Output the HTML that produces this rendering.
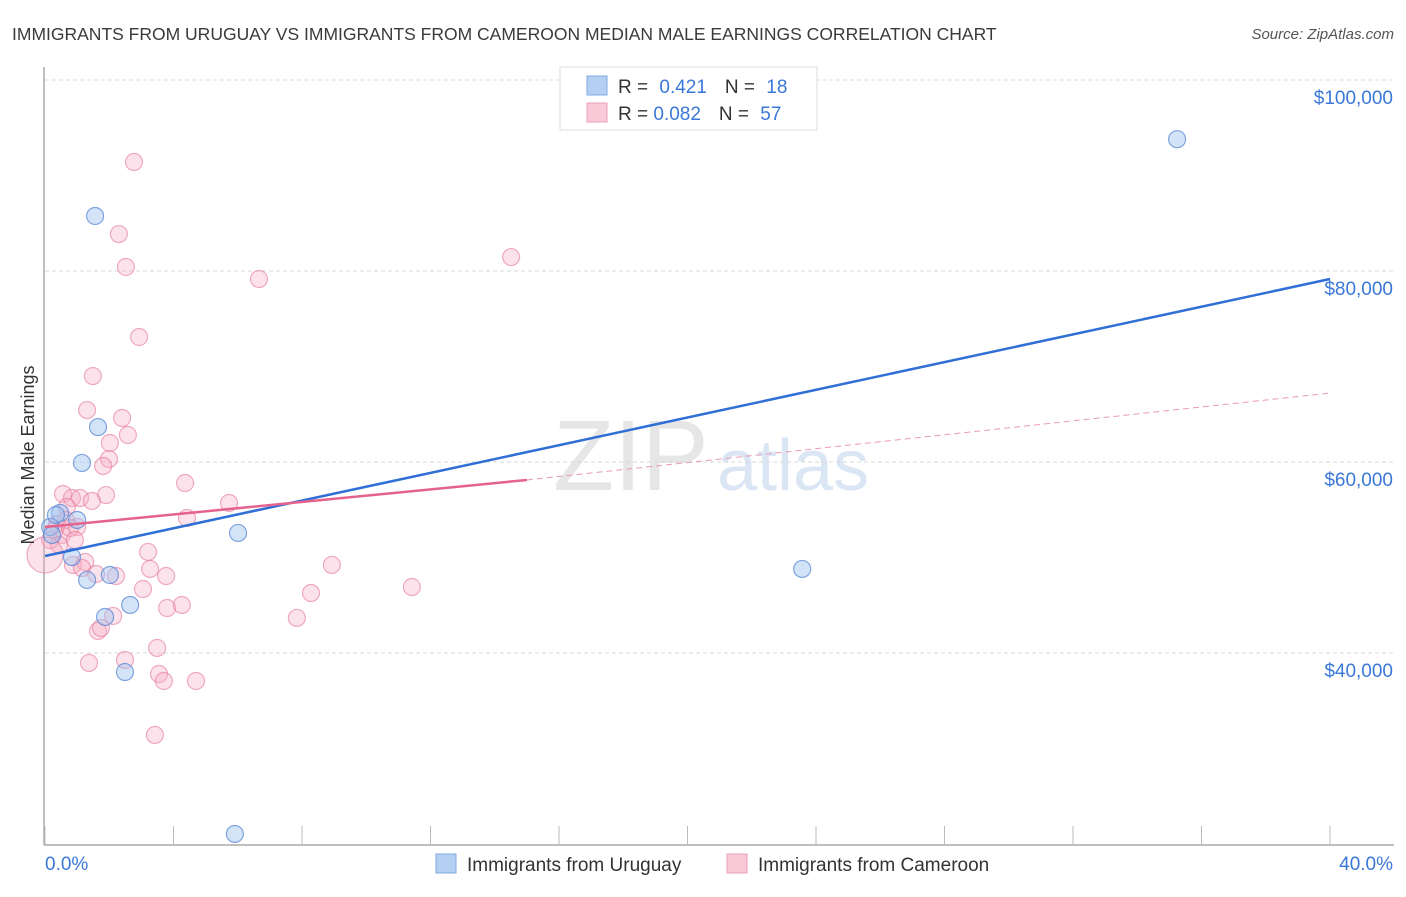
<!DOCTYPE html>
<html><head><meta charset="utf-8"><style>
body{margin:0;background:#fff;font-family:"Liberation Sans",sans-serif;}
svg text{font-family:"Liberation Sans",sans-serif;}
</style></head><body>
<svg width="1406" height="892" viewBox="0 0 1406 892" xmlns="http://www.w3.org/2000/svg">
<text x="12" y="40" font-size="17.5" fill="#3a3a3a">IMMIGRANTS FROM URUGUAY VS IMMIGRANTS FROM CAMEROON MEDIAN MALE EARNINGS CORRELATION CHART</text>
<text x="1394" y="39" font-size="15" fill="#555" text-anchor="end" font-style="italic">Source: ZipAtlas.com</text>
<g>
<text x="553" y="490" font-size="100" fill="#e6e6e6" font-family="Liberation Serif">ZIP</text>
<text x="717" y="490" font-size="72" fill="#dbe6f5">atlas</text>
</g>
<g id="grid"></g>
<g id="axes"></g>
<g id="marks"></g>
<g id="lines"></g>
<text transform="translate(34,455) rotate(-90)" font-size="18" fill="#333" text-anchor="middle">Median Male Earnings</text>
<g>
<rect x="560" y="67" width="257" height="63" fill="#fff" stroke="#ddd"/>
<rect x="587" y="76" width="20" height="19" fill="#b5cff3" stroke="#7fa8e3"/>
<rect x="587" y="103" width="20" height="19" fill="#f9c9d7" stroke="#eba0b8"/>
<text x="618" y="93" font-size="19" fill="#333">R = <tspan fill="#3a78d8" dx="6">0.421</tspan><tspan dx="18" fill="#333">N = </tspan><tspan fill="#3a78d8" dx="6">18</tspan></text>
<text x="618" y="120" font-size="19" fill="#333">R = <tspan fill="#3a78d8">0.082</tspan><tspan dx="18" fill="#333">N = </tspan><tspan fill="#3a78d8" dx="6">57</tspan></text>
</g>
<g>
<rect x="436" y="854" width="20" height="19" fill="#b5cff3" stroke="#7fa8e3"/>
<text x="467" y="871" font-size="19" fill="#333">Immigrants from Uruguay</text>
<rect x="727" y="854" width="20" height="19" fill="#f9c9d7" stroke="#eba0b8"/>
<text x="758" y="871" font-size="19" fill="#333">Immigrants from Cameroon</text>
</g>
</svg>
<script>
const yTicks=[40000,60000,80000,100000];
const yTickLabels=["$40,000","$60,000","$80,000","$100,000"];
const xTickValues=[0,4,8,12,16,20,24,28,32,36,40];
const xEndLabels=["0.0%","40.0%"];
const uruguayX=[35.24,1.56,1.65,1.15,0.47,1.0,0.16,0.22,0.34,0.84,1.31,2.02,2.65,1.87,2.49,6.01,23.57,5.91];
const uruguayY=[93800,85760,63660,59900,54660,53930,53190,52360,54450,50050,47650,48170,45030,43770,38010,52570,48800,21050];
const cameroonX=[2.77,2.30,2.52,6.66,14.51,2.93,1.49,1.31,2.40,2.58,2.02,1.99,1.81,0.56,0.84,1.09,1.90,1.46,4.36,5.73,4.42,0.68,0.37,1.0,0.53,0.16,3.21,0.87,1.25,1.15,3.27,1.59,2.21,3.77,8.93,3.05,8.28,11.42,3.80,4.26,2.12,1.65,1.74,7.84,3.49,2.49,1.37,3.55,3.70,4.70,3.42,0.31,0.65,0.44,0.78,0.93,0];
const cameroonY=[91410,83870,80420,79160,81460,73090,69000,65440,64610,62830,61990,60310,59580,56650,56230,56230,56540,55920,57800,55710,54140,55290,53510,53190,52360,51830,50580,49220,49530,48900,48800,48270,48060,48060,49220,46700,46280,46910,44710,45030,43880,42310,42620,43670,40530,39270,38960,37800,37070,37070,31420,52880,53930,51310,53090,51830,50260];
const uruguayTrend=[[0,50160],[40,79160]];
const cameroonTrendSolid=[[0,53190],[15,58120]];
const cameroonTrendDashed=[[15,58120],[40,67220]];

const NS="http://www.w3.org/2000/svg";
const X0=45,X1=1330;
function xs(p){return X0+(X1-X0)*p/40;}
function ys(v){return 462-(v-60000)*191/20000;}
function mk(tag,attrs,parent){const e=document.createElementNS(NS,tag);for(const k in attrs)e.setAttribute(k,attrs[k]);parent.appendChild(e);return e;}

const grid=document.getElementById('grid');
yTicks.forEach((v,i)=>{
  const l=mk('line',{x1:X0,x2:1394,y1:ys(v),y2:ys(v),stroke:'#d8d8d8','stroke-dasharray':'4,3'},grid);
  
  
  const t=mk('text',{x:1393,y:ys(v)+24,'font-size':19,fill:'#3a78d8','text-anchor':'end'},grid);
  t.textContent=yTickLabels[i];
  
  
});
const axes=document.getElementById('axes');
const ya=mk('line',{x1:44,x2:44,y1:67,y2:845,stroke:'#aaa','stroke-width':1.5},axes);


const xa=mk('line',{x1:44,x2:1394,y1:845,y2:845,stroke:'#aaa','stroke-width':1.5},axes);


xTickValues.forEach(p=>{
  const t=mk('line',{x1:xs(p),x2:xs(p),y1:826,y2:845,stroke:'#bbb'},axes);
  
  
});
const xl0=mk('text',{x:45,y:870,'font-size':19,fill:'#3a78d8'},axes);
xl0.textContent=xEndLabels[0];


const xl1=mk('text',{x:1393,y:870,'font-size':19,fill:'#3a78d8','text-anchor':'end'},axes);
xl1.textContent=xEndLabels[1];



const marks=document.getElementById('marks');
cameroonX.forEach((p,i)=>{
  const big=(i===cameroonX.length-1);
  const c=mk('circle',{cx:xs(p),cy:ys(cameroonY[i]),r:big?18:8.5,fill:'rgba(246,172,196,0.35)',stroke:'rgba(228,120,156,0.6)','stroke-width':1.2},marks);
  
  
});
uruguayX.forEach((p,i)=>{
  const c=mk('circle',{cx:xs(p),cy:ys(uruguayY[i]),r:8.5,fill:'rgba(160,196,240,0.45)',stroke:'rgba(80,130,210,0.7)','stroke-width':1.2},marks);
  
  
});
const lines=document.getElementById('lines');
const bl=mk('line',{x1:xs(uruguayTrend[0][0]),y1:ys(uruguayTrend[0][1]),x2:xs(uruguayTrend[1][0]),y2:ys(uruguayTrend[1][1]),stroke:'#2f6fd6','stroke-width':2.5},lines);


const pl=mk('line',{x1:xs(cameroonTrendSolid[0][0]),y1:ys(cameroonTrendSolid[0][1]),x2:xs(cameroonTrendSolid[1][0]),y2:ys(cameroonTrendSolid[1][1]),stroke:'#e5628e','stroke-width':2.5},lines);


const pd=mk('line',{x1:xs(cameroonTrendDashed[0][0]),y1:ys(cameroonTrendDashed[0][1]),x2:xs(cameroonTrendDashed[1][0]),y2:ys(cameroonTrendDashed[1][1]),stroke:'#e99ab3','stroke-width':1,'stroke-dasharray':'6,4'},lines);


</script>
</body></html>
